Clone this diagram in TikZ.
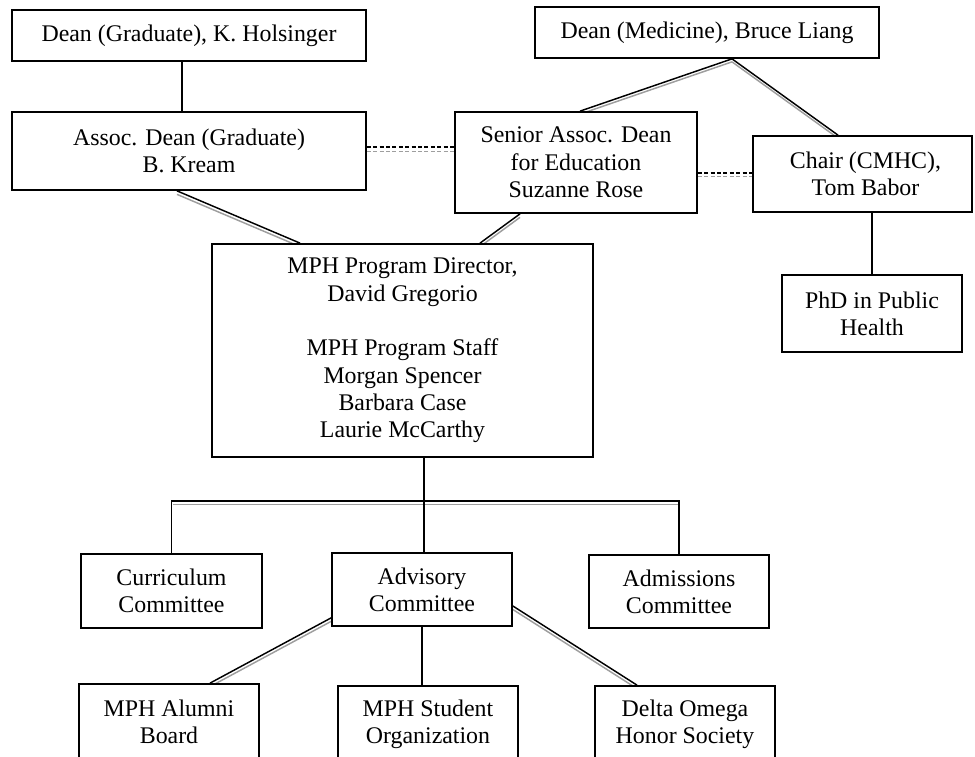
\documentclass[tikz,border=0pt]{standalone}
\usepackage{fontspec}
\setmainfont{Liberation Serif}
\usetikzlibrary{backgrounds}
\newlength\pxu
\setlength\pxu{0.75pt}
\tikzset{
  orgbox/.style 2 args={draw, fill=white, line width=1.3pt, rectangle, align=center,
    inner sep=0pt, minimum width=#1\pxu, minimum height=#2\pxu,
    font=\fontsize{17.9}{20.5}\selectfont},
  link/.style={line width=1.1pt, draw=black},
  greyline/.style={line width=1.1pt, draw=black!38},
  dlink/.style={line width=1.1pt, draw=black, dash pattern=on 3pt off 1.8pt},
  dgrey/.style={line width=1.1pt, draw=black!38, dash pattern=on 3pt off 1.8pt},
}
\begin{document}
\begin{tikzpicture}[x=0.75pt, y=-0.75pt]
\useasboundingbox (0,0) rectangle (975,757);
\clip (0,0) rectangle (975,757);

% boxes
\node[orgbox={354}{51}] (dg) at (189,35.5) {Dean (Graduate), K. Holsinger};
\node[orgbox={344}{51}] (dm) at (707,32.5) {Dean (Medicine), Bruce Liang};
\node[orgbox={354}{78}] (ad) at (189,151) {Assoc. Dean (Graduate)\\B. Kream};
\node[orgbox={242}{101}] (sd) at (576,162.5) {Senior Assoc. Dean\\for Education\\Suzanne Rose};
\node[orgbox={219}{76}] (ch) at (862.5,174) {\hspace*{6\pxu}Chair (CMHC),\\\hspace*{6\pxu}Tom Babor};
\node[orgbox={180}{77}] (phd) at (872,313.5) {PhD in Public\\Health};
\node[orgbox={381}{213}] (mph) at (402.5,350.5) {MPH Program Director,\\David Gregorio\\[20.5pt]MPH Program Staff\\Morgan Spencer\\Barbara Case\\Laurie McCarthy};
\node[orgbox={181}{74}] (cur) at (171.5,591) {Curriculum\\Committee};
\node[orgbox={180}{73}] (adv) at (422,589.5) {Advisory\\Committee};
\node[orgbox={180}{73}] (adm) at (679,591.5) {Admissions\\Committee};
\node[orgbox={180}{76}] (alu) at (169,722) {MPH Alumni\\Board};
\node[orgbox={180}{76}] (stu) at (428,724) {MPH Student\\Organization};
\node[orgbox={180}{76}] (del) at (685,724) {Delta Omega\\Honor Society};

\coordinate (bl) at (171.5,501);
\coordinate (br) at (679,501);
\coordinate (d2a) at (sd.east |- ch.west);
\coordinate (m1) at (mph.south -| adv.north);

\begin{scope}[on background layer]
% Dean (Graduate) -> Assoc. Dean
\draw[link] ([xshift=-7\pxu]dg.south) -- ([xshift=-7\pxu]ad.north);
% Assoc. Dean -> MPH
\draw[greyline] ([xshift=-12\pxu,yshift=-3.5\pxu]ad.south) -- ([xshift=-102.5\pxu,yshift=-3.5\pxu]mph.north);
\draw[link] ([xshift=-12\pxu]ad.south) -- ([xshift=-102.5\pxu]mph.north);
% Senior Assoc. Dean -> MPH
\draw[greyline] ([xshift=-56\pxu,yshift=-3.5\pxu]sd.south) -- ([xshift=77.5\pxu,yshift=-3.5\pxu]mph.north);
\draw[link] ([xshift=-56\pxu]sd.south) -- ([xshift=77.5\pxu]mph.north);
% Dean (Medicine) -> Senior Assoc. Dean / Chair
\draw[greyline] ([xshift=25\pxu,yshift=-3\pxu]dm.south) -- ([xshift=4\pxu,yshift=-3\pxu]sd.north);
\draw[greyline] ([xshift=25\pxu,yshift=-3\pxu]dm.south) -- ([xshift=-24.5\pxu,yshift=-3\pxu]ch.north);
\draw[link] ([xshift=4\pxu]sd.north) -- ([xshift=25\pxu]dm.south) -- ([xshift=-24.5\pxu]ch.north);
% dashed links
\draw[dgrey] ([yshift=-0.5\pxu]ad.east) -- ([yshift=-0.5\pxu]ad.east -| sd.west);
\draw[dlink] ([yshift=4\pxu]ad.east) -- ([yshift=4\pxu]ad.east -| sd.west);
\draw[dgrey] ([yshift=-2.5\pxu]d2a) -- ([yshift=-2.5\pxu]ch.west);
\draw[dlink] ([yshift=1\pxu]d2a) -- ([yshift=1\pxu]ch.west);
% Chair -> PhD
\draw[link] (ch.south -| phd.north) -- (phd.north);
% MPH -> committees
\draw[greyline] ([xshift=1.5\pxu,yshift=-3.5\pxu]bl) -- ([xshift=-1.5\pxu,yshift=-3.5\pxu]br);
\draw[link] (cur.north) -- (bl) -- (br) -- (adm.north);
\draw[link] ([xshift=2\pxu]m1) -- ([xshift=2\pxu]adv.north);
% Advisory -> lower boxes
\draw[greyline] ([yshift=5.5\pxu]adv.south west) -- ([xshift=41\pxu,yshift=-3.5\pxu]alu.north);
\draw[link] ([yshift=9\pxu]adv.south west) -- ([xshift=41\pxu]alu.north);
\draw[link] (adv.south) -- (adv.south |- stu.north);
\draw[greyline] ([yshift=-20\pxu]adv.east) -- ([xshift=-48\pxu,yshift=-3.5\pxu]del.north);
\draw[link] ([yshift=-16.5\pxu]adv.east) -- ([xshift=-48\pxu]del.north);
\end{scope}
\end{tikzpicture}
\end{document}
